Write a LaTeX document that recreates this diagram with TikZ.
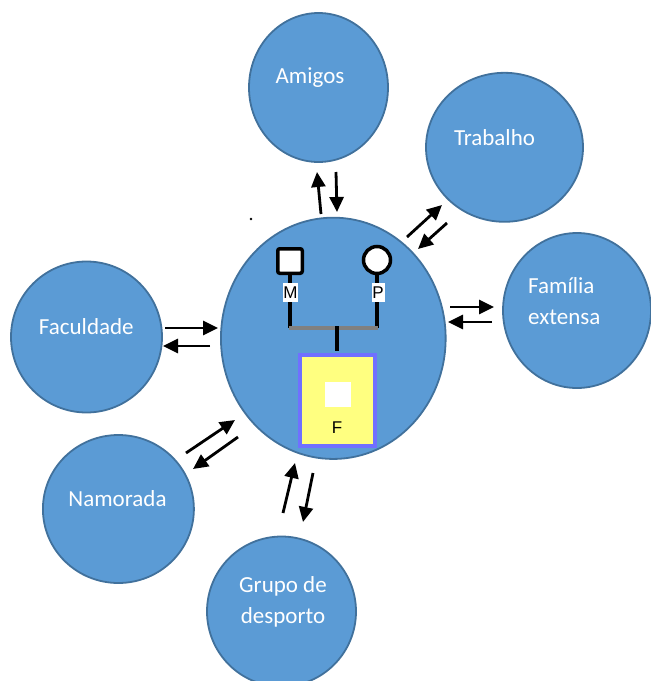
\documentclass[tikz,border=0pt]{standalone}
\usepackage{fontspec}
\setmainfont{Carlito}
\newfontfamily\arialfont{Liberation Sans}
\usetikzlibrary{shapes.geometric,arrows.meta}
\definecolor{bubble}{HTML}{5B9BD5}
\definecolor{bubbleedge}{HTML}{41719C}
\definecolor{famfill}{HTML}{FFFF80}
\definecolor{famedge}{HTML}{7070FF}
\begin{document}
\begin{tikzpicture}[x=1pt,y=-1pt,
  bubble/.style={ellipse, draw=bubbleedge, fill=bubble, line width=1.8pt, inner sep=0pt},
  bubbletext/.style={text=white, font=\fontsize{23}{28}\selectfont, inner sep=0pt, anchor=base},
  flow/.style={line width=2.8pt, -{Triangle[length=15pt,width=14pt]}},
  kin/.style={line width=3.5pt, draw=black, fill=white, inner sep=0pt},
  tag/.style={fill=white, inner sep=0pt, minimum width=13pt, minimum height=19pt,
    font=\arialfont\fontsize{17}{19}\selectfont},
  tie/.style={line width=4pt}
]
\useasboundingbox (0,0) rectangle (651,681);

% outer circles
\node[bubble, minimum width=139pt, minimum height=149pt] (amigos) at (318.5,87.5) {};
\node[bubble, minimum width=157pt, minimum height=149pt] (trabalho) at (504.5,147.3) {};
\node[bubble, minimum width=148pt, minimum height=155pt] (familia) at (577,310.5) {};
\node[bubble, minimum width=151pt, minimum height=151pt] (faculdade) at (86.5,337) {};
\node[bubble, minimum width=151pt, minimum height=148pt] (namorada) at (118.4,509) {};
\node[bubble, minimum width=149pt, minimum height=150pt] (grupo) at (281.5,611.5) {};

% labels of the outer circles
\node[bubbletext] (tamigos) at (310,83) {Amigos};
\node[bubbletext] (ttrabalho) at (494.5,145) {Trabalho};
\node[bubbletext, anchor=base west] (tfamiliaA) at (528,293) {Família};
\node[bubbletext, anchor=base west] (tfamiliaB) at (528,324) {extensa};
\node[bubbletext] (tfaculdade) at (86.3,334) {Faculdade};
\node[bubbletext] (tnamorada) at (117.5,506.7) {Namorada};
\node[bubbletext] (tgrupoA) at (283,592.7) {Grupo de};
\node[bubbletext] (tgrupoB) at (283,623) {desporto};

% central circle with the family genogram
\node[bubble, minimum width=224.7pt, minimum height=241.3pt] (centro) at (333.3,338.3) {};

\node[kin, rounded corners=2pt, minimum size=24.5pt] (pai) at (290,261) {};
\node[kin, circle, minimum size=27pt] (mae) at (377,260) {};
\coordinate (barL) at (290,328);
\coordinate (barR) at (377.7,328);
\coordinate (barM) at (337,328);
\draw[tie] (pai.south) -- (pai.south |- barL);
\draw[tie] (mae.south) -- (mae.south |- barR);
\node[tag] (tpai) at (290.5,292.3) {M};
\node[tag] (tmae) at (378,292.3) {P};
\draw[tie, draw=gray] ([xshift=-1pt]barL) -- (barR);

\node[draw=famedge, fill=famfill, line width=4pt, minimum width=75pt, minimum height=91pt, inner sep=0pt] (filho) at (337.5,400.5) {};
\draw[tie, shorten >=2pt] ([yshift=2pt]barM) -- (barM |- filho.north);
\node[fill=white, minimum width=26pt, minimum height=25pt, inner sep=0pt] (filhosq) at (338,394.5) {};
\node[font=\arialfont\fontsize{17}{19}\selectfont, anchor=base, inner sep=0pt] (tfilho) at (337,433) {F};

% arrow end points
\coordinate (a1s) at (321,214);  \coordinate (a1e) at (317,172);
\coordinate (a2s) at (336,172);  \coordinate (a2e) at (337,212);
\coordinate (b1s) at (407,237);  \coordinate (b1e) at (442,205);
\coordinate (b2s) at (447,223);  \coordinate (b2e) at (418,249);
\coordinate (c1s) at (450,307);  \coordinate (c1e) at (494,307);
\coordinate (c2s) at (492,322);  \coordinate (c2e) at (448,322);
\coordinate (d1s) at (165,328);  \coordinate (d1e) at (218,328);
\coordinate (d2s) at (210,346);  \coordinate (d2e) at (163,346);
\coordinate (e1s) at (186,453);  \coordinate (e1e) at (235,420);
\coordinate (e2s) at (238,437);  \coordinate (e2e) at (193,469);
\coordinate (g1s) at (283,513);  \coordinate (g1e) at (295,463);
\coordinate (g2s) at (313,473);  \coordinate (g2e) at (303,522);

\draw[flow] (a1s) -- (a1e);
\draw[flow] (a2s) -- (a2e);
\draw[flow] (b1s) -- (b1e);
\draw[flow] (b2s) -- (b2e);
\draw[flow] (c1s) -- (c1e);
\draw[flow] (c2s) -- (c2e);
\draw[flow] (d1s) -- (d1e);
\draw[flow] (d2s) -- (d2e);
\draw[flow] (e1s) -- (e1e);
\draw[flow] (e2s) -- (e2e);
\draw[flow] (g1s) -- (g1e);
\draw[flow] (g2s) -- (g2e);

% small stray mark
\fill (251,219) circle (1.3pt);
\end{tikzpicture}
\end{document}
